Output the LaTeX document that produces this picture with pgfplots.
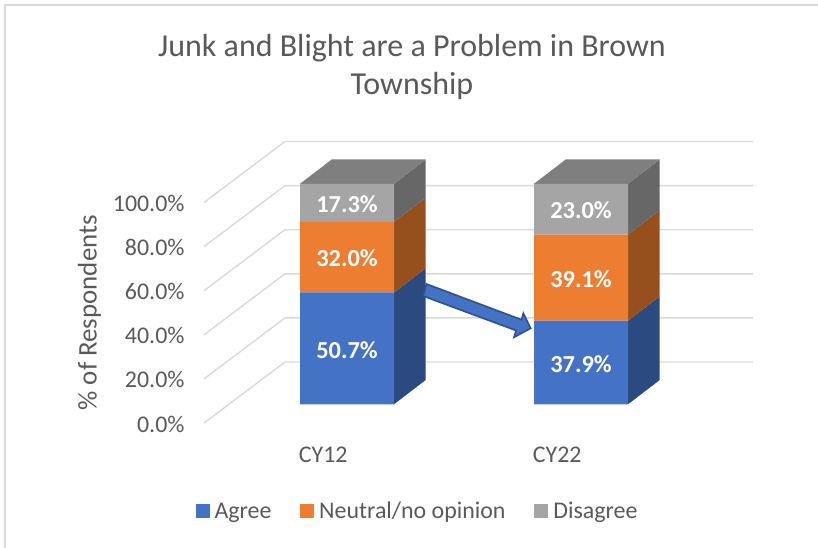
\documentclass[border=0pt]{standalone}
\usepackage{pgfplots}
\usepackage{fontspec}
\setmainfont{Carlito}
\pgfplotsset{compat=1.18}
\definecolor{txt}{HTML}{595959}
\definecolor{gridc}{HTML}{D9D9D9}
\definecolor{bl}{HTML}{4472C4}
\definecolor{or}{HTML}{ED7D31}
\definecolor{gr}{HTML}{A5A5A5}
\definecolor{bld}{HTML}{2A4A80}
\definecolor{ord}{HTML}{96501E}
\definecolor{grd}{HTML}{676767}
\definecolor{grt}{HTML}{7F7F7F}
\definecolor{arr}{HTML}{2F528F}
\pgfplotstableread{
x agree neutral disagree
0 50.7 32.0 17.3
1 37.9 39.1 23.0
}\shares
\pgfplotsset{
  barplane/.style={
    at={(230bp,143.7bp)}, anchor=south west, scale only axis,
    width=468bp, height=220.5bp,
    xmin=-0.5, xmax=1.5, ymin=0, ymax=100,
    clip=false, axis lines=none},
  face/.style={draw=none, forget plot},
}
\newcommand{\sidefaces}[4]{% x a b c (stack tops); depth 31.7px/234 = 0.1355 ; 24.3px = 11.02
  \addplot[face, fill=bld] coordinates {(#1+0.2009,0) (#1+0.3364,11.02) (#1+0.3364,#2+11.02) (#1+0.2009,#2)} -- cycle;
  \addplot[face, fill=ord] coordinates {(#1+0.2009,#2) (#1+0.3364,#2+11.02) (#1+0.3364,#3+11.02) (#1+0.2009,#3)} -- cycle;
  \addplot[face, fill=grd] coordinates {(#1+0.2009,#3) (#1+0.3364,#3+11.02) (#1+0.3364,#4+11.02) (#1+0.2009,#4)} -- cycle;
  \addplot[face, fill=grt] coordinates {(#1-0.2009,#4) (#1+0.2009,#4) (#1+0.3364,#4+11.02) (#1-0.0654,#4+11.02)} -- cycle;
}
\begin{document}
\begin{tikzpicture}[x=1bp,y=1bp]
\path[use as bounding box] (0,0) rectangle (818,548);
\draw[gridc,line width=1.5bp] (5,0) -- (5,543) -- (818,543);
\node[text=txt,align=center,font=\fontsize{32.1}{39}\selectfont] at (412,481) {Junk and Blight are a Problem in Brown\\Township};
% walls
\begin{axis}[
  at={(205bp,125bp)}, anchor=south west, scale only axis,
  width=468bp, height=220.5bp,
  xmin=-0.5, xmax=1.5, ymin=0, ymax=100, clip=false,
  axis line style={draw=none}, tick style={draw=none},
  xtick={0,1}, xticklabels={CY12,CY22},
  ytick={0,20,40,60,80,100},
  yticklabel={\pgfmathprintnumber[fixed,fixed zerofill,precision=1]{\tick}\%},
  /pgf/number format/assume math mode=true,
  ticklabel style={text=txt,font=\fontsize{24}{28}\selectfont},
  yticklabel style={xshift=-17bp,yshift=-1bp},
  xticklabel style={yshift=-20bp,xshift=1.2bp},
  ylabel={\% of Respondents},
  ylabel style={text=txt,font=\fontsize{27}{31}\selectfont,yshift=5bp},
]
\pgfplotsinvokeforeach{0,20,40,60,80,100}{
  \addplot[gridc,line width=1.4bp,forget plot] coordinates {(-0.504,#1) (-0.158,#1+27.66) (1.842,#1+27.66)};
}
\end{axis}
% bar sides
\begin{axis}[barplane]
\sidefaces{0}{50.7}{82.7}{100}
\sidefaces{1}{37.9}{77.0}{100}
\end{axis}
% bars
\begin{axis}[barplane,
  ybar stacked, bar width=0.4017,
  visualization depends on={rawy \as \rawy},
  nodes near coords={\pgfmathprintnumber[fixed,fixed zerofill,precision=1]{\rawy}\%},
  /pgf/number format/assume math mode=true,
  every node near coord/.append style={anchor=center, text=white, yshift=-1.3bp,
     font=\fontsize{24.5}{28}\selectfont\bfseries},
  legend columns=3,
  legend style={draw=none, fill=none, at={(187.5bp,-107bp)}, anchor=center, text=txt,
     font=\fontsize{24}{28}\selectfont,
     /tikz/every odd column/.append style={column sep=3bp},
     /tikz/every even column/.append style={column sep=26.8bp}},
  legend image code/.code={\fill[#1] (0bp,-7bp) rectangle (14bp,7bp);},
]
\addplot[fill=bl,draw=none] table[x=x,y=agree] {\shares};
\addplot[fill=or,draw=none] table[x=x,y=neutral] {\shares};
\addplot[fill=gr,draw=none] table[x=x,y=disagree] {\shares};
\legend{Agree,Neutral/no opinion,Disagree}
\end{axis}
% arrow
\fill[bl,draw=arr,line width=1.6bp] (426.5,264) -- (521.5,228.3) -- (523.3,234.7) -- (530.7,219.7) -- (514,210.7) -- (516,217.5) -- (423,252) -- cycle;
\end{tikzpicture}
\end{document}
